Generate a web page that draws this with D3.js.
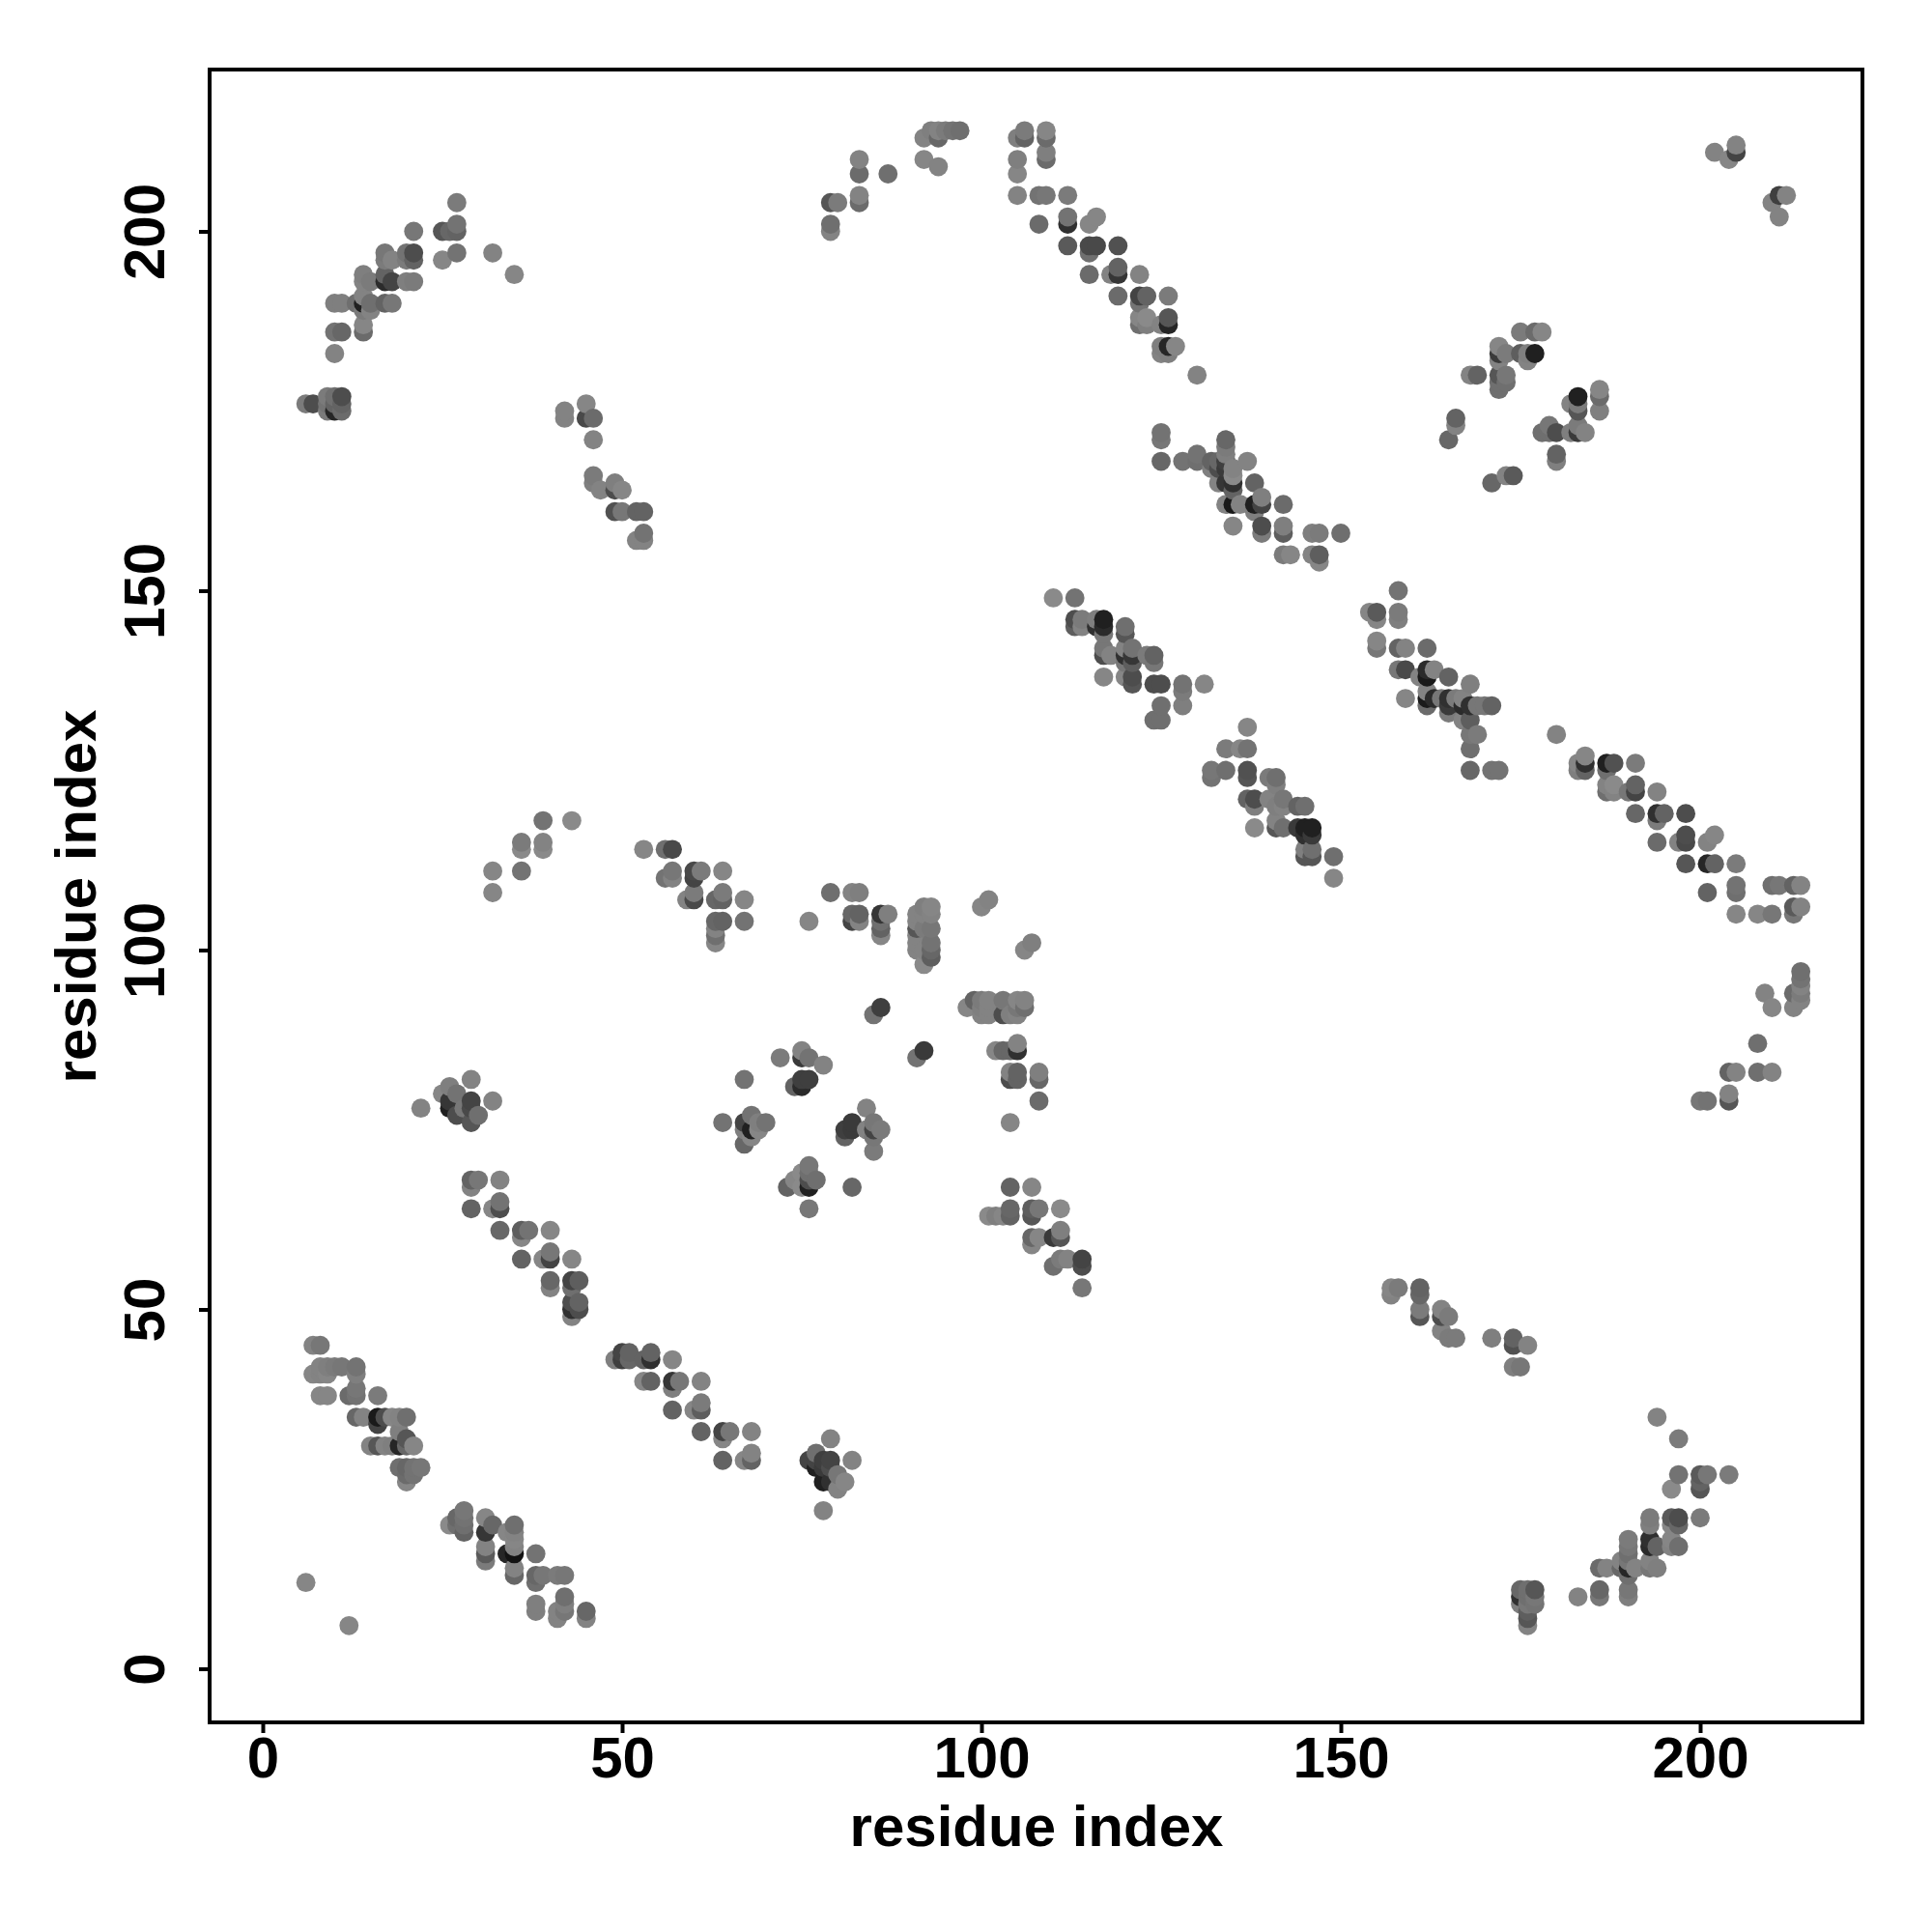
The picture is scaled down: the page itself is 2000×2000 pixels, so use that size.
<!DOCTYPE html>
<html><head><meta charset="utf-8">
<script src="https://cdn.jsdelivr.net/npm/d3@7"></script>
<style>html,body{margin:0;padding:0;background:#fff}svg{display:block}</style>
</head><body><svg id="c" width="2000" height="2000"></svg>
<script>
const tickValuesX=[0,50,100,150,200];
const tickValuesY=[0,50,100,150,200];
const xTitle="residue index", yTitle="residue index";
// each contact: [residue i, residue j, grey level]
const helixA=[[7,45,125],[8,45,110],[8,42,125],[9,42,120],[10,42,115],[11,42,110],[13,42,105],[7,41,130],[8,41,125],[9,41,130],[13,41,120],[13,39,110],[12,38,95],[13,38,105],[8,38,130],[9,38,130],[16,38,115],[13,35,90],[14,35,125],[16,35,10],[17,35,60],[18,35,130],[19,35,125],[20,35,100],[16,34,50],[19,33,120],[20,32,70],[15,31,125],[16,31,70],[17,31,125],[18,31,120],[19,31,20],[20,31,90],[21,31,130],[19,28,100],[20,28,90],[21,28,105],[22,28,110],[20,27,95],[21,27,105],[20,26,130]];
const helixB=[[6,12,130],[12,6,130],[26,20,135],[27,21,90],[27,20,100],[28,22,110],[28,21,105],[28,20,100],[28,19,85],[31,21,130],[32,20,90],[31,19,35],[31,17,125],[31,16,75],[31,15,115],[34,19,130],[35,20,100],[35,19,125],[35,18,130],[35,17,125],[34,16,20],[35,16,5],[35,14,125],[35,13,90],[38,16,105],[38,13,90],[39,13,110],[38,12,100],[41,13,115],[42,13,110],[42,10,100],[42,9,120],[42,8,110],[41,8,125],[41,7,125],[38,9,120],[38,8,120],[45,8,90],[45,7,125]];
const blobC=[[29,82,125],[26,81,120],[25,80,130],[27,80,105],[32,79,125],[29,79,50],[26,79,35],[22,78,125],[26,78,15],[28,78,110],[29,78,55],[30,77,100],[29,76,70],[27,77,60]];
const helixD=[[29,68,85],[30,68,110],[33,68,125],[29,67,125],[29,64,85],[32,64,130],[33,64,60],[33,65,105],[33,61,90],[36,61,80],[37,61,105],[36,60,130],[40,61,130],[36,57,85],[39,57,130],[40,57,50],[40,58,110],[43,57,130],[40,54,90],[40,53,125],[43,54,50],[44,54,80],[43,53,100],[43,51,60],[44,51,85],[43,50,30],[44,50,60],[43,49,125]];
const helixE=[[49,43,120],[50,44,50],[50,43,45],[51,44,85],[51,43,90],[53,43,85],[54,44,85],[54,43,30],[57,43,130],[53,40,130],[54,40,85],[57,40,35],[58,40,110],[57,39,120],[61,40,125],[57,36,85],[60,36,130],[61,36,80],[61,37,115],[61,33,85],[64,33,50],[65,33,110],[64,32,130],[68,33,125],[64,29,85],[67,29,130],[68,29,85],[68,30,125]];
const blobF=[[79,32,125],[77,30,100],[76,29,50],[77,29,50],[78,29,45],[79,29,50],[82,29,125],[77,28,15],[78,28,40],[79,28,60],[80,27,110],[78,26,15],[79,26,30],[81,26,130],[80,25,125],[78,22,125]];
const arcG=[[39,118,105],[43,118,135],[36,115,115],[39,115,125],[36,114,135],[39,114,135],[32,111,130],[36,111,105],[32,108,130]];
const helixH=[[53,114,130],[56,114,100],[57,114,55],[56,110,105],[57,111,110],[57,110,125],[60,111,55],[61,111,115],[60,110,50],[64,111,130],[59,107,125],[60,108,115],[60,107,55],[63,107,90],[64,108,115],[64,107,85],[67,107,130],[63,104,90],[64,104,85],[67,104,105],[63,103,125],[63,102,100],[63,101,130]];
const strandI=[[76,104,130],[79,108,100],[82,108,125],[83,108,120],[82,105,90],[82,104,50],[83,105,85],[83,104,125],[86,105,35],[87,105,120],[86,104,100],[86,103,85],[86,102,130],[85,91,105],[86,92,45],[91,85,105],[92,86,40]];
const columnJ=[[91,105,125],[92,106,120],[93,106,130],[91,104,125],[92,105,125],[93,105,125],[91,103,70],[92,103,115],[93,103,110],[91,102,125],[91,101,125],[93,101,105],[91,100,125],[92,100,125],[93,100,90],[93,99,80],[92,98,135],[100,106,130],[101,107,125],[106,100,130],[107,101,120]];
const rowK=[[98,92,130],[99,93,85],[100,93,115],[101,93,125],[103,93,110],[105,93,130],[106,93,125],[100,92,120],[101,92,125],[105,92,110],[106,92,100],[100,91,125],[101,91,125],[103,91,60],[104,91,120],[105,91,125],[102,86,130],[103,86,90],[104,86,90],[105,86,30],[105,87,125],[104,83,125],[105,83,85],[108,83,120],[104,82,60],[105,82,85],[108,82,90],[108,79,95],[104,76,130]];
const blobL=[[72,85,115],[75,86,125],[75,85,40],[76,85,105],[78,84,125],[67,82,105],[76,82,45],[75,81,25],[74,81,85],[75,82,45],[64,76,105],[67,76,50],[68,77,105],[69,76,120],[70,76,105],[67,75,120],[68,75,15],[69,75,130],[68,74,130],[67,73,90]];
const blobM=[[84,78,125],[82,76,40],[81,75,45],[82,75,40],[81,74,85],[85,76,110],[84,75,125],[85,75,50],[86,75,115],[85,74,110],[85,72,115],[76,70,110],[75,69,135],[76,69,100],[74,68,130],[76,68,60],[77,68,100],[73,67,85],[75,67,135],[76,67,15],[82,67,90],[76,64,110]];
const helixN=[[104,67,85],[107,67,130],[101,63,135],[102,63,120],[104,64,90],[103,63,130],[104,63,85],[107,64,80],[108,64,110],[107,63,70],[111,64,135],[111,61,120],[107,60,90],[108,60,130],[107,59,130],[110,60,40],[111,60,70],[111,57,115],[112,57,125],[114,57,50],[114,56,60],[110,56,100],[114,53,110]];
const strandO=[[157,53,130],[158,53,115],[157,52,125],[161,53,85],[161,52,90],[161,50,115],[161,49,70],[164,50,125],[164,49,60],[165,49,115],[164,47,125],[165,46,115],[166,46,115],[171,46,120],[174,46,85],[174,45,65],[176,45,125],[174,42,120],[175,42,110]];
const arcP=[[176,6,125],[176,7,70],[176,8,80],[175,9,120],[176,9,110],[177,9,105],[175,10,30],[176,10,100],[177,10,110],[175,11,90],[176,11,100],[177,11,70],[183,10,125],[186,11,90],[186,10,110],[186,14,95],[187,14,125],[190,11,110],[190,10,120],[189,15,125],[189,14,90],[190,18,115],[190,17,110],[190,16,100],[190,15,110],[190,14,20],[190,13,100],[191,14,125],[193,21,115],[193,20,120],[193,18,30],[193,17,25],[193,15,125],[193,14,110],[194,17,85],[194,14,120],[196,21,75],[197,21,60],[196,20,130],[197,20,90],[196,18,130],[196,17,125],[197,17,100],[200,21,115],[194,35,125],[197,32,115],[197,27,105],[200,27,75],[201,27,110],[204,27,115],[196,25,135],[200,26,85],[200,25,70]];
const arcQ=[[27,204,115],[21,200,110],[25,200,70],[26,200,90],[27,201,105],[27,200,85],[25,196,130],[27,197,105],[32,197,125],[35,194,130],[17,197,110],[17,196,115],[18,196,125],[20,197,105],[21,197,60],[20,196,115],[21,196,85],[14,194,120],[17,194,85],[14,193,125],[15,193,115],[17,193,25],[18,193,50],[20,193,120],[21,193,115],[10,190,120],[11,190,120],[13,190,100],[14,191,125],[14,190,15],[15,190,100],[17,190,85],[18,190,110],[14,189,115],[15,189,125],[10,186,105],[11,186,90],[14,187,130],[14,186,95],[10,183,125],[6,176,115],[7,176,60],[9,177,115],[10,177,100],[11,177,60],[9,176,105],[10,176,85],[11,176,85],[9,175,115],[10,175,20],[11,175,95]];
const helixR=[[42,175,125],[42,174,125],[45,176,130],[45,174,55],[46,174,95],[46,171,125],[46,166,115],[46,165,120],[47,164,125],[49,165,120],[49,164,60],[50,164,130],[49,161,65],[50,161,110],[52,161,85],[53,161,85],[53,158,105],[52,157,125],[53,157,125]];
const arcS=[[79,204,70],[80,204,115],[79,201,100],[79,200,125],[83,210,125],[83,208,95],[83,205,125],[83,204,95],[87,208,100],[92,213,125],[93,214,120],[94,214,125],[94,213,90],[95,214,115],[96,214,105],[97,214,100],[92,210,130],[94,209,125],[105,213,120],[106,214,115],[106,213,85],[109,214,130],[109,213,95],[109,211,120],[109,210,95],[105,210,120],[105,208,130],[105,205,125],[108,205,105],[109,205,110],[112,205,115]];
const helixT=[[108,201,95],[112,202,105],[112,201,30],[115,201,130],[116,202,130],[112,198,75],[115,198,55],[116,198,55],[115,197,100],[119,198,65],[115,194,95],[118,194,125],[119,195,85],[119,194,35],[122,194,125],[119,191,95],[122,191,50],[123,191,85],[122,190,105],[126,191,115],[122,188,130],[123,188,135],[122,187,100],[123,187,120],[125,187,125],[126,188,70],[126,187,20],[125,184,120],[126,184,20],[127,184,130],[125,183,125],[126,183,120],[130,180,125]];
const helixU=[[110,149,135],[113,149,105],[113,146,60],[114,146,115],[113,145,80],[114,145,125],[116,146,120],[117,146,15],[116,145,30],[117,145,25],[117,144,110],[120,145,100],[120,144,70],[117,142,110],[117,141,60],[118,141,125],[120,142,125],[121,142,105],[120,141,30],[121,141,35],[120,140,110],[121,140,80],[123,141,115],[124,141,85],[124,140,110],[117,138,130],[120,138,130],[121,138,60],[121,137,70],[124,137,60],[125,137,60],[128,137,105],[131,137,130],[128,136,115],[125,134,100],[128,134,120],[124,132,100],[125,132,100]];
const helixV=[[137,131,130],[134,128,115],[136,128,130],[137,128,105],[132,125,110],[134,125,100],[132,124,105],[137,125,65],[137,124,70],[140,124,115],[141,124,100],[141,123,120],[137,121,85],[138,121,60],[138,120,120],[140,121,125],[141,120,120],[142,121,110],[142,120,125],[144,120,85],[145,120,100],[138,117,135],[141,118,125],[141,117,70],[142,117,100],[144,117,40],[145,117,15],[146,117,15],[145,116,30],[146,116,40],[145,114,120],[146,114,100],[145,113,70],[146,113,70],[149,113,100],[149,110,130]];
const helixW=[[125,172,105],[125,171,110],[125,168,90],[128,168,105],[130,169,105],[130,168,100],[132,168,85],[133,168,90],[132,167,120],[134,171,90],[134,170,115],[134,169,120],[134,168,45],[133,167,60],[134,167,40],[135,167,125],[135,166,135],[135,165,30],[135,164,85],[133,165,125],[134,165,35],[137,168,125],[138,165,85],[134,162,125],[135,162,10],[136,162,125],[138,162,15],[139,162,50],[139,163,120],[138,161,120],[142,162,95],[135,159,130],[139,159,60],[139,158,115],[142,159,120],[142,158,80],[146,158,120],[147,158,115],[150,158,100],[142,155,115],[143,155,130],[146,155,125],[147,155,80],[147,154,130]];
const helixX=[[158,150,105],[154,147,130],[155,147,75],[155,146,130],[158,147,115],[158,146,120],[155,143,130],[155,142,110],[158,142,85],[159,142,125],[162,142,95],[158,139,110],[159,139,55],[162,139,25],[163,139,125],[161,138,125],[162,138,10],[165,138,85],[168,137,120],[159,135,130],[162,136,125],[162,135,10],[162,134,95],[163,135,25],[164,135,110],[165,135,30],[165,134,40],[166,135,115],[167,135,125],[167,134,25],[168,134,30],[169,134,110],[170,134,110],[171,134,85],[165,133,115],[167,132,125],[168,132,80],[168,130,110],[169,130,115],[168,128,100],[168,125,90],[171,125,105],[172,125,105]];
const helixY=[[180,130,125],[183,126,130],[184,127,130],[184,126,30],[183,125,120],[184,125,85],[187,126,15],[188,126,65],[187,125,100],[191,126,115],[187,123,125],[188,123,135],[187,122,100],[188,122,125],[190,122,110],[191,123,85],[191,122,50],[194,122,125],[191,119,90],[194,119,30],[195,119,85],[194,118,115],[198,119,60],[194,115,95],[197,115,125],[198,116,60],[198,115,55],[201,115,125],[202,116,130],[198,112,70],[201,112,20],[202,112,85],[205,112,115],[201,108,85],[205,109,105],[205,108,100],[210,109,100],[211,109,110],[213,109,85],[214,109,125],[205,105,130],[208,105,130],[210,105,110],[213,106,75],[214,106,125],[213,105,110]];
const tailZ=[[214,97,100],[214,96,105],[214,95,125],[213,94,95],[214,94,115],[214,93,125],[213,92,125],[209,94,125],[210,92,130],[208,87,100],[204,83,85],[205,83,125],[208,83,100],[210,83,125],[200,79,110],[201,79,105],[204,80,125],[204,79,70]];
const patchAA=[[202,211,125],[204,210,130],[205,212,125],[205,211,50],[210,204,125],[211,205,45],[212,205,125],[211,202,125],[175,186,115],[177,186,95],[178,186,130],[172,184,130],[172,183,40],[173,183,115],[175,183,80],[176,183,120],[177,183,15],[176,182,125],[172,182,125],[168,180,125],[169,180,85],[172,180,70],[173,180,110],[172,179,100],[173,179,100],[172,178,100]];
const patchAB=[[186,178,130],[183,177,15],[186,177,95],[182,176,125],[183,176,115],[183,175,70],[186,175,120],[179,173,110],[178,172,100],[179,172,100],[180,172,60],[182,172,120],[183,173,115],[183,172,40],[184,172,125],[180,169,85],[180,168,120],[166,174,85],[166,173,125],[165,171,90],[171,165,90],[173,166,125],[174,166,75]];

const contacts=[helixA,helixB,blobC,helixD,helixE,blobF,arcG,helixH,strandI,columnJ,rowK,blobL,blobM,helixN,strandO,arcP,arcQ,helixR,arcS,helixT,helixU,helixV,helixW,helixX,helixY,tailZ,patchAA,patchAB].flat();
contacts.sort((a,b)=>d3.ascending(a[0],b[0])||d3.ascending(a[1],b[1]));

const svg=d3.select("#c");
const F="'Liberation Sans',Arial,sans-serif";
const x=d3.scaleLinear().domain([0,200]).range([272,1760]);
const y=d3.scaleLinear().domain([0,200]).range([1727.5,239.5]);
const grey=d3.scalePow().exponent(0.8).domain([0,140]).range([10,142]);
const box={l:217,r:1928,t:72,b:1783};

svg.append("g").selectAll("circle").data(contacts).join("circle")
 .attr("cx",d=>x(d[0])).attr("cy",d=>y(d[1])).attr("r",9.9)
 .attr("fill",d=>{const g=grey(d[2]);return d3.rgb(g,g,g);});

svg.append("rect").attr("x",box.l).attr("y",box.t).attr("width",box.r-box.l).attr("height",box.b-box.t)
 .attr("fill","none").attr("stroke","#000").attr("stroke-width",4);

const ax=svg.append("g").attr("transform",`translate(0,${box.b})`)
 .call(d3.axisBottom(x).tickValues(tickValuesX).tickSize(11).tickPadding(0).tickFormat(d3.format("d")));
const ay=svg.append("g").attr("transform",`translate(${box.l},0)`)
 .call(d3.axisLeft(y).tickValues(tickValuesY).tickSize(11).tickPadding(0).tickFormat(d3.format("d")));
[ax,ay].forEach(a=>{a.select(".domain").remove();a.selectAll("line").attr("stroke","#000").attr("stroke-width",4);});
ax.selectAll("text").attr("y",null).attr("dy",null).attr("transform",null)
 .attr("y",57).attr("text-anchor","middle").style("font",`bold 60px ${F}`).attr("fill","#000");
ay.selectAll("text").attr("x",null).attr("dy",null)
 .attr("x",0).attr("y",0).attr("transform","translate(-47,0) rotate(-90)")
 .attr("text-anchor","middle").style("font",`bold 60px ${F}`).attr("fill","#000");

svg.append("text").attr("x",1073).attr("y",1911).attr("text-anchor","middle")
 .style("font",`bold 60px ${F}`).text(xTitle);
svg.append("text").attr("transform","translate(99,928) rotate(-90)").attr("text-anchor","middle")
 .style("font",`bold 60px ${F}`).text(yTitle);
</script></body></html>
